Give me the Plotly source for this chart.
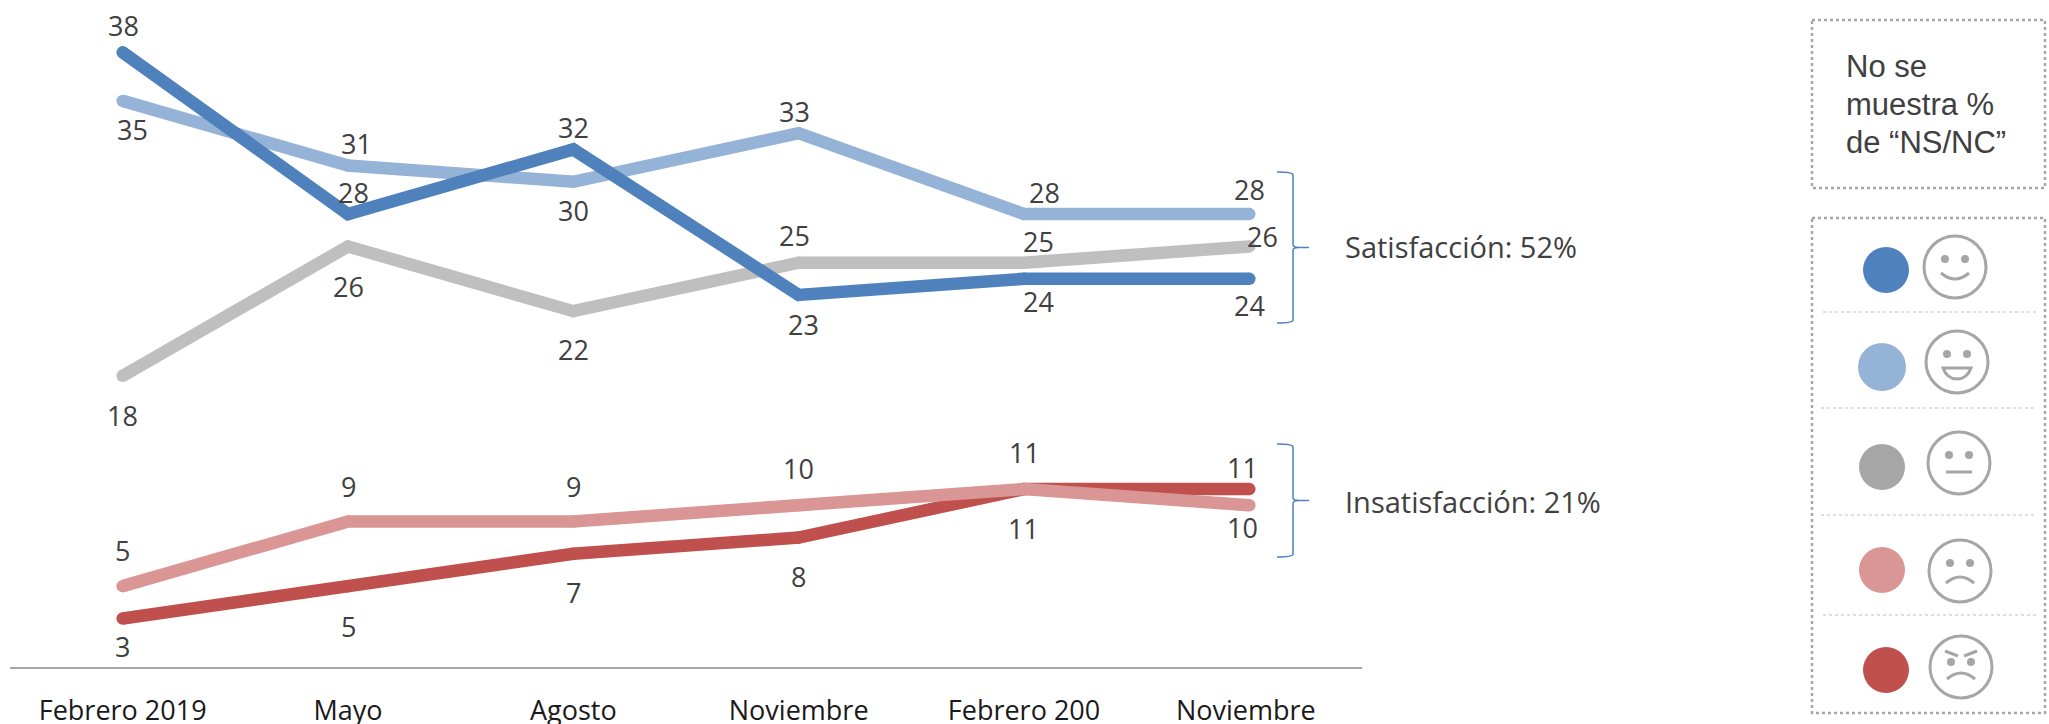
import plotly.graph_objects as go

WIDTH = 2049
HEIGHT = 724

# ── data ──────────────────────────────────────────────────────────────────────
PERIODS = ["Febrero 2019", "Mayo", "Agosto", "Noviembre", "Febrero 200", "Noviembre "]

MUY_SATISFECHO = [38, 28, 32, 23, 24, 24]
SATISFECHO = [35, 31, 30, 33, 28, 28]
NEUTRO = [18, 26, 22, 25, 25, 26]
INSATISFECHO = [5, 9, 9, 10, 11, 10]
MUY_INSATISFECHO = [3, 5, 7, 8, 11, 11]

SUMMARY_TEXT = ["Satisfacción: 52%", "Insatisfacción: 21%"]
NOTE_LINES = ["No se", "muestra %", "de “NS/NC”"]

# ── colours ───────────────────────────────────────────────────────────────────
C_DARK_BLUE = "#4F81BD"
C_LIGHT_BLUE = "#95B3D7"
C_GREY_LINE = "#BFBFBF"
C_GREY_DOT = "#A6A6A6"
C_PINK = "#D99694"
C_RED = "#C0504D"
C_TEXT = "#404040"
C_FACE = "#A6A6A6"

FONT_LABEL = "Open Sans"
FONT_NOTE = "Liberation Sans"

# label offsets from each point, in pixels (dx, dy; dy positive is downwards)
SERIES = [
    (NEUTRO, C_GREY_LINE,
     [(0, 40), (0, 40), (0, 38), (-4, -27), (14, -21), (13, -10)]),
    (SATISFECHO, C_LIGHT_BLUE,
     [(10, 29), (8, -22), (0, 29), (-4, -22), (20, -22), (0, -25)]),
    (MUY_SATISFECHO, C_DARK_BLUE,
     [(1, -27), (5, -22), (0, -22), (5, 30), (14, 23), (0, 27)]),
    (MUY_INSATISFECHO, C_RED,
     [(0, 28), (0, 40), (0, 39), (0, 39), (-1, 39), (-7, -22)]),
    (INSATISFECHO, C_PINK,
     [(0, -36), (0, -35), (0, -35), (0, -37), (0, -37), (-7, 22)]),
]


# page pixels to paper fractions (the margins are zero, so paper is the page)
def fx(px):
    return px / WIDTH


def fy(py):
    return 1 - py / HEIGHT


def path(*parts):
    """Build an SVG path from commands and (x, y) page-pixel pairs."""
    out = []
    for p in parts:
        if isinstance(p, str):
            out.append(p)
        else:
            out.append(f"{fx(p[0]):.5f},{fy(p[1]):.5f}")
    return " ".join(out)


fig = go.Figure()

for values, colour, offsets in SERIES:
    fig.add_trace(go.Scatter(
        x=PERIODS, y=values, mode="lines+markers",
        line=dict(color=colour, width=12.5),
        marker=dict(color=colour, size=12.5, line=dict(width=0)),
        showlegend=False,
        cliponaxis=False,
    ))
    for period, v, (dx, dy) in zip(PERIODS, values, offsets):
        fig.add_annotation(
            x=period, y=v, xref="x", yref="y", text=str(v), showarrow=False,
            xshift=dx, yshift=-dy,
            font=dict(family=FONT_LABEL, size=27, color=C_TEXT),
        )

shapes = []


# ── braces ────────────────────────────────────────────────────────────────────
def brace(top, bottom):
    mid = (top + bottom) / 2
    return dict(
        type="path", xref="paper", yref="paper",
        line=dict(color=C_DARK_BLUE, width=1.5),
        path=path("M", (1277, top), "Q", (1293, top), (1293, top + 3),
                  "L", (1293, mid - 3), "Q", (1293, mid), (1299, mid),
                  "L", (1309, mid), "L", (1299, mid),
                  "Q", (1293, mid), (1293, mid + 3),
                  "L", (1293, bottom - 3), "Q", (1293, bottom), (1277, bottom)),
    )


shapes.append(brace(172, 323))
shapes.append(brace(444, 557))

for text, py in zip(SUMMARY_TEXT, [247, 502]):
    fig.add_annotation(
        x=fx(1343), y=fy(py), xref="paper", yref="paper", text=text,
        showarrow=False, xanchor="left", yanchor="middle",
        font=dict(family=FONT_LABEL, size=29, color=C_TEXT),
    )


# ── side panels ───────────────────────────────────────────────────────────────
def rect_box(top, bottom):
    return dict(
        type="rect", xref="paper", yref="paper",
        x0=fx(1812), x1=fx(2045), y0=fy(top), y1=fy(bottom),
        line=dict(color=C_GREY_DOT, width=2.5, dash="dot"),
    )


shapes.append(rect_box(20, 188))
shapes.append(rect_box(218, 713))

for text, py in zip(NOTE_LINES, [66, 105, 143]):
    fig.add_annotation(
        x=fx(1844), y=fy(py), xref="paper", yref="paper", text=text,
        showarrow=False, xanchor="left", yanchor="middle",
        font=dict(family=FONT_NOTE, size=31, color=C_TEXT),
    )

for py, x0, x1 in [(312, 1823, 2038), (408, 1821, 2036),
                   (515, 1821, 2036), (615, 1823, 2038)]:
    shapes.append(dict(
        type="line", xref="paper", yref="paper",
        x0=fx(x0), x1=fx(x1), y0=fy(py), y1=fy(py),
        line=dict(color="#BFBFBF", width=1, dash="dot"),
    ))


def circle(cx, cy, r, fill=None, line=None):
    return dict(
        type="circle", xref="paper", yref="paper",
        x0=fx(cx - r), x1=fx(cx + r), y0=fy(cy - r), y1=fy(cy + r),
        fillcolor=fill, line=line or dict(width=0),
    )


def stroke(d, fill=None):
    return dict(type="path", xref="paper", yref="paper", path=d,
                fillcolor=fill, line=dict(color=C_FACE, width=3))


def face(cx, cy, eye_dy=-8):
    items = [circle(cx, cy, 31, line=dict(color=C_FACE, width=3))]
    for side in (-1, 1):
        items.append(circle(cx + side * 10, cy + eye_dy, 4, fill=C_FACE))
    return items


# legend swatches: one per series, same colours as the lines
for cx, cy, r, col in [(1886, 270, 23, C_DARK_BLUE),
                       (1882, 367, 24, C_LIGHT_BLUE),
                       (1882, 467, 23, C_GREY_DOT),
                       (1882, 570, 23, C_PINK),
                       (1886, 670, 23, C_RED)]:
    shapes.append(circle(cx, cy, r, fill=col))

# happy
cx, cy = 1955, 267
shapes += face(cx, cy)
shapes.append(stroke(path("M", (cx - 14, cy + 6), "Q", (cx, cy + 18), (cx + 14, cy + 6))))

# very happy, open mouth
cx, cy = 1957, 362
shapes += face(cx, cy)
shapes.append(stroke(path("M", (cx - 14, cy + 6), "L", (cx + 14, cy + 6),
                          "Q", (cx + 10, cy + 17), (cx, cy + 17),
                          "Q", (cx - 10, cy + 17), (cx - 14, cy + 6), "Z")))

# neutral
cx, cy = 1959, 463
shapes += face(cx, cy)
shapes.append(stroke(path("M", (cx - 13, cy + 9), "L", (cx + 13, cy + 9))))

# sad
cx, cy = 1960, 571
shapes += face(cx, cy)
shapes.append(stroke(path("M", (cx - 14, cy + 12), "Q", (cx, cy), (cx + 14, cy + 12))))

# angry
cx, cy = 1961, 667
shapes += face(cx, cy, eye_dy=-5)
shapes.append(stroke(path("M", (cx - 14, cy + 12), "Q", (cx, cy), (cx + 14, cy + 12))))
for side in (-1, 1):
    shapes.append(stroke(path("M", (cx + side * 16, cy - 16), "L", (cx + side * 3, cy - 11))))

fig.update_layout(
    width=WIDTH, height=HEIGHT,
    margin=dict(l=0, r=0, t=0, b=0),
    paper_bgcolor="white", plot_bgcolor="white",
    showlegend=False,
    shapes=shapes,
    xaxis=dict(
        domain=[fx(10), fx(1362)], automargin=False,
        type="category", categoryorder="array", categoryarray=PERIODS,
        range=[-0.5, 5.5], showgrid=False, zeroline=False,
        showline=True, linecolor=C_GREY_DOT, linewidth=2,
        ticks="outside", ticklen=19, tickcolor="rgba(0,0,0,0)",
        tickfont=dict(family=FONT_LABEL, size=27, color="#1a1a1a"),
    ),
    yaxis=dict(
        domain=[fy(667), fy(20)], automargin=False,
        range=[0, 40], visible=False, showgrid=False, zeroline=False,
    ),
)

# the default page has an 8 px body margin, which would shift everything
fig.write_html("out.html", config=dict(displayModeBar=False),
               post_script="document.body.style.margin='0';")
